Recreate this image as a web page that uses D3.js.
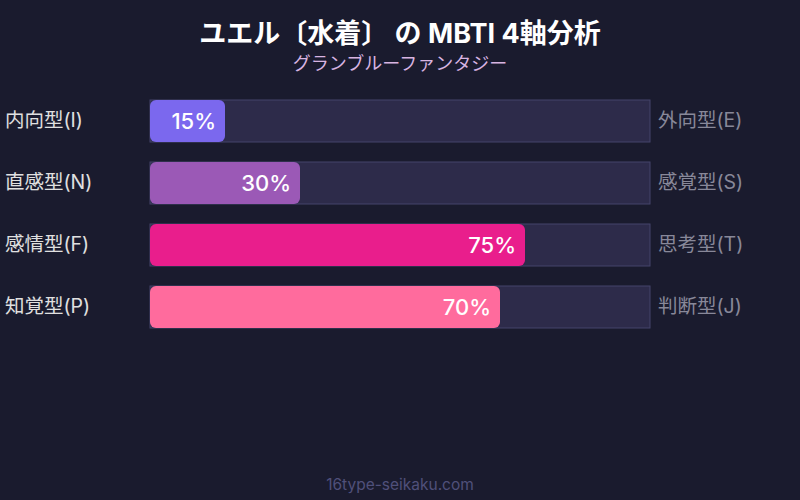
<!DOCTYPE html>
<html>
<head>
<meta charset="utf-8">
<script src="https://cdn.jsdelivr.net/npm/d3@7"></script>
<style>
  html, body { margin: 0; padding: 0; background: #1a1b2e; }
  svg { display: block; font-family: Inter, "Noto Sans CJK JP", sans-serif; }
</style>
</head>
<body>
<script>
// chart data
var leftLabels = ["内向型(I)", "直感型(N)", "感情型(F)", "知覚型(P)"];
var rightLabels = ["外向型(E)", "感覚型(S)", "思考型(T)", "判断型(J)"];
var values = [15, 30, 75, 70];
var barColors = ["#7b68ee", "#9b59b6", "#e91e8c", "#ff6b9d"];

var width = 800, height = 500;

var svg = d3.select("body").append("svg")
    .attr("width", width)
    .attr("height", height);

svg.append("rect")
    .attr("width", width).attr("height", height)
    .attr("fill", "#1a1b2e");

// title + subtitle
svg.append("text")
    .attr("x", 400).attr("y", 43)
    .attr("text-anchor", "middle")
    .attr("fill", "#ffffff")
    .attr("font-size", 27)
    .attr("font-weight", "bold")
    .text("ユエル〔水着〕 の MBTI 4軸分析");

svg.append("text")
    .attr("x", 400).attr("y", 70)
    .attr("text-anchor", "middle")
    .attr("fill", "#d8b4e2")
    .attr("font-size", 18)
    .text("グランブルーファンタジー");

// scales
var x = d3.scaleLinear().domain([0, 100]).range([150, 650]);
var y = d3.scaleBand()
    .domain(d3.range(values.length))
    .range([100, 328])
    .paddingInner(20 / 62)
    .paddingOuter(0);

var rows = svg.append("g")
    .selectAll("g")
    .data(values)
    .enter().append("g");

// background track
rows.append("rect")
    .attr("x", x(0))
    .attr("y", function (d, i) { return y(i); })
    .attr("width", x(100) - x(0))
    .attr("height", y.bandwidth())
    .attr("fill", "#2d2b4a")
    .attr("stroke", "#44446a")
    .attr("stroke-width", 1);

// value bar
rows.append("rect")
    .attr("x", x(0))
    .attr("y", function (d, i) { return y(i); })
    .attr("width", function (d) { return x(d) - x(0); })
    .attr("height", y.bandwidth())
    .attr("rx", 6).attr("ry", 6)
    .attr("fill", function (d, i) { return barColors[i]; });

// percent text
rows.append("text")
    .attr("x", function (d) { return x(d) - 9; })
    .attr("y", function (d, i) { return y(i) + y.bandwidth() / 2 + 8; })
    .attr("text-anchor", "end")
    .attr("fill", "#ffffff")
    .attr("font-size", 22)
    .attr("font-weight", 500)
    .text(function (d) { return d + "%"; });

// left labels
rows.append("text")
    .attr("x", 5)
    .attr("y", function (d, i) { return y(i) + y.bandwidth() / 2 + 6; })
    .attr("fill", "#e0e0e0")
    .attr("font-size", 19.5)
    .text(function (d, i) { return leftLabels[i]; });

// right labels
rows.append("text")
    .attr("x", 658)
    .attr("y", function (d, i) { return y(i) + y.bandwidth() / 2 + 6; })
    .attr("fill", "#888899")
    .attr("font-size", 19.5)
    .text(function (d, i) { return rightLabels[i]; });

// footer
svg.append("text")
    .attr("x", 400).attr("y", 490)
    .attr("text-anchor", "middle")
    .attr("fill", "#50507a")
    .attr("font-size", 15.5)
    .text("16type-seikaku.com");
</script>
</body>
</html>
